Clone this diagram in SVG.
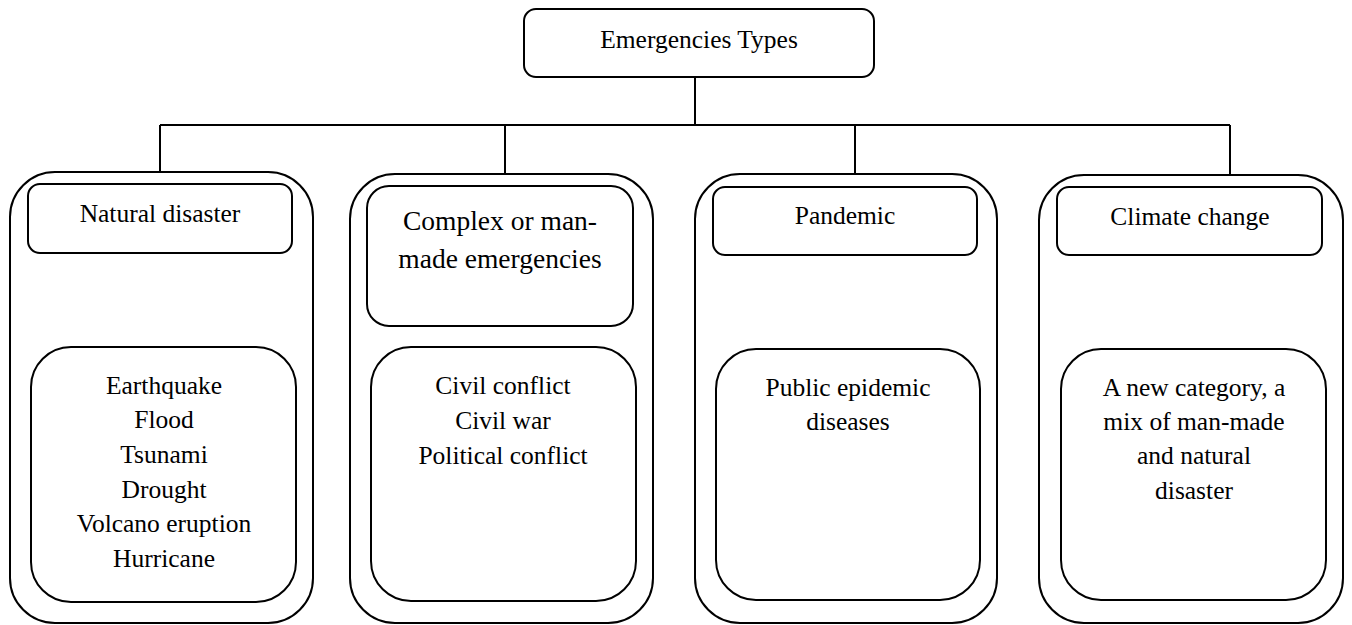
<svg xmlns="http://www.w3.org/2000/svg" width="1352" height="625" viewBox="0 0 1352 625">
<style>
.box{fill:#fff;stroke:#000;stroke-width:2}
.conn{fill:none;stroke:#000;stroke-width:2}
.t{font-family:"Liberation Serif","Times New Roman",serif;font-size:25.5px;fill:#000;text-anchor:middle}
.big{font-size:27.5px}
</style>
<rect width="1352" height="625" fill="#fff"/>
<g id="connectors">
<path class="conn" d="M695 77V125M160 125H1230M160 125V172M505 125V174M855 125V174M1230 125V175"/>
</g>
<g id="root">
<rect class="box" x="524" y="9" width="350" height="68" rx="12"/>
<text class="t" x="699" y="48">Emergencies Types</text>
</g>
<g id="natural">
<rect class="box" x="10" y="172" width="303" height="451" rx="45"/>
<rect class="box" x="28" y="184" width="264" height="69" rx="12"/>
<text class="t" x="160" y="222">Natural disaster</text>
<rect class="box" x="31" y="347" width="265" height="255" rx="40"/>
<text class="t" x="164" y="394">Earthquake</text>
<text class="t" x="164" y="428">Flood</text>
<text class="t" x="164" y="463">Tsunami</text>
<text class="t" x="164" y="498">Drought</text>
<text class="t" x="164" y="532">Volcano eruption</text>
<text class="t" x="164" y="567">Hurricane</text>
</g>
<g id="complex">
<rect class="box" x="350" y="174" width="303" height="449" rx="45"/>
<rect class="box" x="367" y="186" width="266" height="140" rx="22"/>
<text class="t big" x="500" y="230">Complex or man-</text>
<text class="t big" x="500" y="268">made emergencies</text>
<rect class="box" x="371" y="347" width="265" height="254" rx="40"/>
<text class="t" x="503" y="394">Civil conflict</text>
<text class="t" x="503" y="429">Civil war</text>
<text class="t" x="503" y="464">Political conflict</text>
</g>
<g id="pandemic">
<rect class="box" x="695" y="174" width="302" height="449" rx="45"/>
<rect class="box" x="713" y="187" width="264" height="68" rx="12"/>
<text class="t" x="845" y="224">Pandemic</text>
<rect class="box" x="716" y="349" width="264" height="251" rx="40"/>
<text class="t" x="848" y="396">Public epidemic</text>
<text class="t" x="848" y="430">diseases</text>
</g>
<g id="climate">
<rect class="box" x="1039" y="175" width="304" height="448" rx="45"/>
<rect class="box" x="1057" y="187" width="265" height="68" rx="12"/>
<text class="t" x="1190" y="225">Climate change</text>
<rect class="box" x="1061" y="349" width="265" height="251" rx="40"/>
<text class="t" x="1194" y="396">A new category, a</text>
<text class="t" x="1194" y="430">mix of man-made</text>
<text class="t" x="1194" y="464">and natural</text>
<text class="t" x="1194" y="499">disaster</text>
</g>
</svg>
